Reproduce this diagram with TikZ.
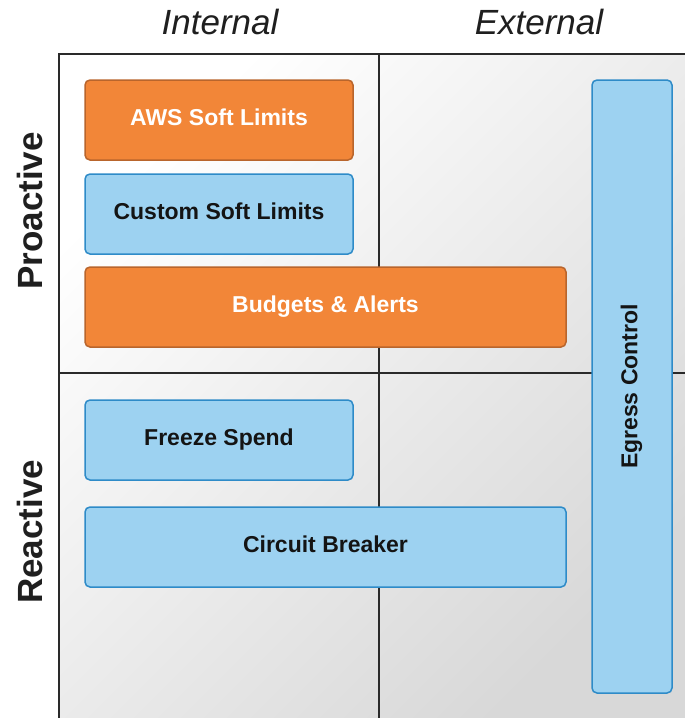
\documentclass[tikz,border=0pt]{standalone}
\usepackage{fontspec}
\setmainfont{Liberation Sans}
\definecolor{orangeF}{HTML}{F28638}
\definecolor{orangeD}{HTML}{B9652C}
\definecolor{blueF}{HTML}{9DD2F1}
\definecolor{blueD}{HTML}{2E8BC8}
\definecolor{gridline}{HTML}{2A2A2A}
\definecolor{shadeA}{HTML}{FFFFFF}
\definecolor{shadeB}{HTML}{D8D8D8}
\tikzset{
  box/.style={rounded corners=5pt, line width=1.5pt, inner sep=0pt,
    font=\bfseries\fontsize{23}{27}\selectfont, minimum height=80pt,
    text height=16.5pt, text depth=6pt},
  orangebox/.style={box, fill=orangeF, draw=orangeD, text=white},
  bluebox/.style={box, fill=blueF, draw=blueD, text=black!92},
  axislabel/.style={font=\itshape\fontsize{35}{40}\selectfont, text=black!88},
  sidelabel/.style={font=\bfseries\fontsize{35}{40}\selectfont, text=black!88, rotate=90},
  gridrule/.style={draw=gridline, line width=2pt}
}
\begin{document}
\begin{tikzpicture}[x=1pt, y=-1pt]
  \useasboundingbox (0,0) rectangle (685,718);
  \fill[white] (0,0) rectangle (685,718);

  % background of the quadrant grid
  \shade[top color=shadeA, bottom color=shadeB, shading angle=45]
    (59,54) rectangle (685,718);

  % grid rules
  \coordinate (tl) at (59,54);
  \coordinate (tr) at (685,54);
  \coordinate (bl) at (59,718);
  \coordinate (mt) at (379,54);
  \coordinate (mb) at (379,718);
  \coordinate (ml) at (59,373);
  \coordinate (mr) at (685,373);
  \draw[gridrule] (bl) -- (tl) -- (tr);
  \draw[gridrule] (mt) -- (mb);
  \draw[gridrule] (ml) -- (mr);

  % axis headings
  \node[axislabel] (internal) at (220,22) {Internal};
  \node[axislabel] (external) at (539,22) {External};
  \node[sidelabel] (proactive) at (30,211) {Proactive};
  \node[sidelabel] (reactive) at (30,532) {Reactive};

  % measures
  \node[orangebox, minimum width=268pt] (aws) at (219,120) {AWS Soft Limits};
  \node[bluebox, minimum width=268pt] (custom) at (219,214) {Custom Soft Limits};
  \node[orangebox, minimum width=481pt] (budgets) at (325.5,307) {Budgets \& Alerts};
  \node[bluebox, minimum width=268pt] (freeze) at (219,440) {Freeze Spend};
  \node[bluebox, minimum width=481pt] (circuit) at (325.5,547) {Circuit Breaker};
  \node[bluebox, rotate=90, minimum width=613pt] (egress) at (632,386.5) {Egress Control};
\end{tikzpicture}
\end{document}
